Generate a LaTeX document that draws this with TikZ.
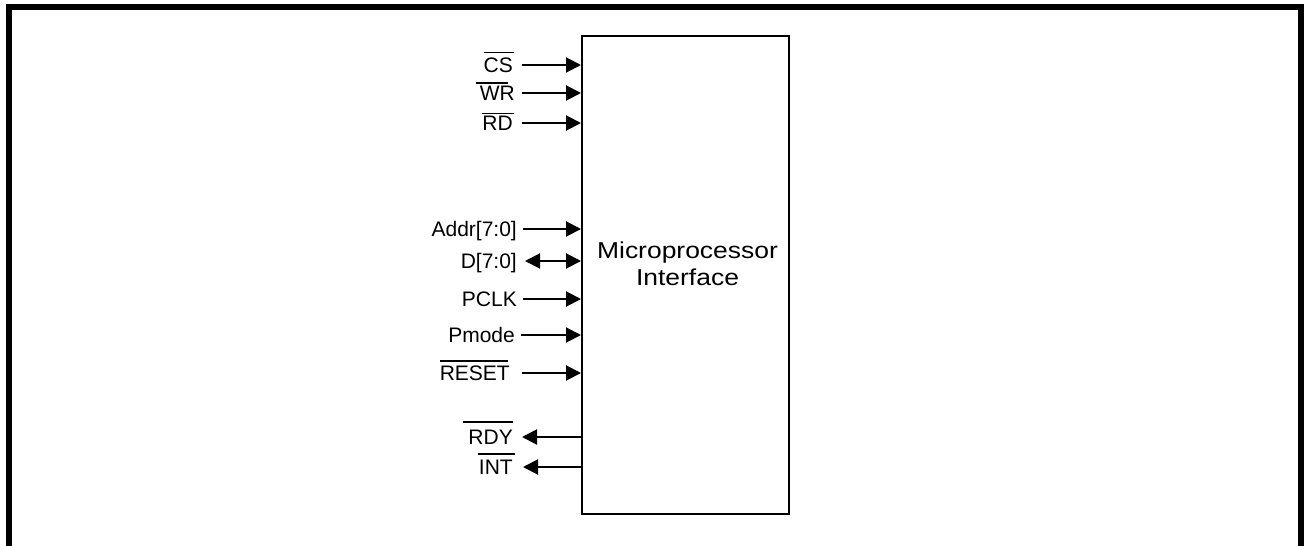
\documentclass[tikz,border=0pt]{standalone}
\usepackage{fontspec}
\setmainfont{Liberation Sans}
\newfontfamily\widefont[FakeStretch=1.15]{Liberation Sans}
\usetikzlibrary{arrows.meta}
\newsavebox\ovbox
% #1 left extension, #2 right extension, #3 gap above cap top, #4 text
\newcommand\ovl[4]{\sbox\ovbox{#4}\rlap{\kern-#1pt\rule[\dimexpr14.5pt+#3pt\relax]{\dimexpr\wd\ovbox+#1pt+#2pt\relax}{1.3pt}}\usebox\ovbox}
\begin{document}
\begin{tikzpicture}[x=1pt,y=-1pt,
  sig/.style={line width=2pt,-{Triangle[length=15pt,width=15pt]}},
  bsig/.style={line width=2pt,{Triangle[length=15pt,width=15pt]}-{Triangle[length=15pt,width=15pt]}},
  lbl/.style={anchor=east,inner sep=0pt,text height=15pt,text depth=0pt,font=\fontsize{21}{25}\selectfont},
  blockbox/.style={draw,line width=2pt,minimum width=207pt,minimum height=478pt,inner sep=0pt},
  frameline/.style={line width=6pt,miter limit=10}
]
\useasboundingbox (0,0) rectangle (1304,546);
\draw[frameline] (9,552) -- (9,7) -- (1301,7) -- (1301,552);

\node[blockbox] (mp) at (685.5,275) {};
\node[inner sep=0pt,align=center,font=\widefont\fontsize{23}{27}\selectfont] (mplabel) at (687.5,264) {Microprocessor\\Interface};

\node[lbl] (cs) at (513,65) {\ovl{0}{1}{5}{CS}};
\draw[sig] ([xshift=9pt]cs.east) -- (cs.east -| mp.west);
\node[lbl] (wr) at (515,93) {\ovl{4}{-7}{2.5}{WR}};
\draw[sig] ([xshift=7pt]wr.east) -- (wr.east -| mp.west);
\node[lbl] (rd) at (513,123) {\ovl{0}{1}{2}{RD}};
\draw[sig] ([xshift=9pt]rd.east) -- (rd.east -| mp.west);

\node[lbl] (addr) at (517,229) {Addr[7:0]};
\draw[sig] ([xshift=6pt]addr.east) -- (addr.east -| mp.west);
\node[lbl] (d) at (517,261) {D[7:0]};
\draw[bsig] ([xshift=8pt]d.east) -- (d.east -| mp.west);
\node[lbl] (pclk) at (517,299) {PCLK};
\draw[sig] ([xshift=6pt]pclk.east) -- (pclk.east -| mp.west);
\node[lbl] (pmode) at (515,335) {Pmode};
\draw[sig] ([xshift=6pt]pmode.east) -- (pmode.east -| mp.west);
\node[lbl] (reset) at (510,373) {\ovl{0}{-2}{4.3}{RESET}};
\draw[sig] ([xshift=12pt]reset.east) -- (reset.east -| mp.west);

\node[lbl] (rdy) at (513,437) {\ovl{5}{0}{7.5}{RDY}};
\draw[sig] (rdy.east -| mp.west) -- ([xshift=9pt]rdy.east);
\node[lbl] (int) at (513,467) {\ovl{1}{2}{5.3}{INT}};
\draw[sig] (int.east -| mp.west) -- ([xshift=10pt]int.east);
\end{tikzpicture}
\end{document}
